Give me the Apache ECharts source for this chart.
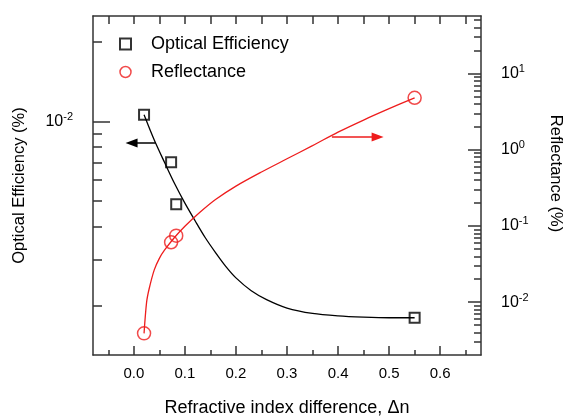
<!DOCTYPE html>
<html>
<head>
<meta charset="utf-8">
<script src="https://cdn.jsdelivr.net/npm/echarts@6/dist/echarts.min.js"></script>
<style>
  html, body { margin: 0; padding: 0; background: #fff; }
  #chart { width: 565px; height: 416px; }
</style>
</head>
<body>
<div id="chart"></div>
<script>
// measured points
const effX = [0.02, 0.073, 0.083, 0.55];
const effY = [0.0106, 0.0070, 0.00485, 0.0018];
const refX = [0.02, 0.073, 0.083, 0.55];
const refY = [0.0039, 0.061, 0.0745, 4.8];

// fitted curves
const effFitX = [0.02, 0.04, 0.06, 0.08, 0.10, 0.12, 0.14, 0.16, 0.18, 0.20, 0.23, 0.26, 0.30, 0.35, 0.40, 0.45, 0.50, 0.55];
const effFitY = [0.0106, 0.0085, 0.0070, 0.0058, 0.0049, 0.0042, 0.00362, 0.00318, 0.00282, 0.00255, 0.00228, 0.00211, 0.00196, 0.00187, 0.00183, 0.00181, 0.0018, 0.0018];
const refFitX = [0.02, 0.025, 0.03, 0.04, 0.05, 0.06, 0.08, 0.10, 0.13, 0.16, 0.20, 0.25, 0.30, 0.35, 0.40, 0.45, 0.50, 0.55];
const refFitY = [0.0039, 0.0100, 0.0150, 0.0265, 0.0375, 0.048, 0.071, 0.099, 0.152, 0.222, 0.333, 0.51, 0.76, 1.13, 1.70, 2.45, 3.45, 4.8];

// arrows pointing at each axis
const effArrow = [[0.0426, 0.00829], [-0.0045, 0.00829]];
const refArrow = [[0.388, 1.47], [0.4775, 1.47]];

// ticks
const xLabels = [0, 0.1, 0.2, 0.3, 0.4, 0.5, 0.6];
const xMinor = [-0.05, 0.05, 0.15, 0.25, 0.35, 0.45, 0.55, 0.65];
const xTop = [-0.05, 0, 0.05, 0.1, 0.15, 0.2, 0.25, 0.3, 0.35, 0.4, 0.45, 0.5, 0.55, 0.6, 0.65];
const leftMajor = [0.01];
const leftMinor = [0.02, 0.009, 0.008, 0.007, 0.006, 0.005, 0.004, 0.003, 0.002];
const rightMajor = [0.01, 0.1, 1, 10];

const leftMin = Math.pow(10, -2.886), leftMax = Math.pow(10, -1.6);
const rightMin = Math.pow(10, -2.693), rightMax = Math.pow(10, 1.754);

const rightMinor = [];
[0.001, 0.01, 0.1, 1, 10].forEach(d => {
  for (let k = 2; k <= 9; k++) {
    const v = k * d;
    if (v > rightMin && v < rightMax) rightMinor.push(v);
  }
});

const FONT = "'Liberation Sans', Arial, sans-serif";
const AXIS = "#333";
const RED = "#ee1d1d";

const pairs = (xs, ys) => xs.map((x, i) => [x, ys[i]]);

const powLabel = {
  formatter: v => "{b|10}{sup|" + Math.round(Math.log10(v)) + "}",
  rich: {
    b: { fontSize: 16, lineHeight: 20, fontFamily: FONT, color: "#000" },
    sup: { fontSize: 11, lineHeight: 10, verticalAlign: "top", fontFamily: FONT, color: "#000" },
  },
};

const frame = { show: true, onZero: false, lineStyle: { color: AXIS, width: 1.5 } };
const noLine = { show: false, onZero: false };

const tickOnly = (vals, len) => ({
  show: true, inside: true, length: len, customValues: vals,
  lineStyle: { color: AXIS, width: 1.5 },
});

const chart = echarts.init(document.getElementById("chart"));
chart.setOption({
  animation: false,
  grid: { left: 93, right: 84, top: 16, bottom: 61, containLabel: false, outerBoundsMode: "none" },
  legend: {
    orient: "vertical",
    left: 119,
    top: 35,
    padding: 0,
    itemGap: 10,
    itemWidth: 11,
    itemHeight: 11,
    textStyle: { fontSize: 18, fontFamily: FONT, color: "#000", padding: [0, 0, 0, 15] },
    data: [
      { name: "Optical Efficiency", icon: "rect", itemStyle: { color: "rgba(0,0,0,0)", borderColor: "#000", borderWidth: 2 } },
      { name: "Reflectance", icon: "circle", itemStyle: { color: "rgba(0,0,0,0)", borderColor: RED, borderWidth: 1.5 } },
    ],
  },
  xAxis: [
    {
      type: "value", position: "bottom", min: -0.08, max: 0.68,
      name: "Refractive index difference, \u0394n",
      nameLocation: "middle", nameGap: 44,
      nameTextStyle: { fontSize: 18, fontFamily: FONT, color: "#000" },
      axisLine: frame,
      axisTick: tickOnly(xLabels, 9),
      axisLabel: { customValues: xLabels, formatter: v => v.toFixed(1), fontSize: 15, fontFamily: FONT, color: "#000", margin: 11 },
      splitLine: { show: false },
    },
    {
      type: "value", position: "bottom", min: -0.08, max: 0.68,
      axisLine: noLine, axisLabel: { show: false }, splitLine: { show: false },
      axisTick: tickOnly(xMinor, 5),
    },
    {
      type: "value", position: "top", min: -0.08, max: 0.68,
      axisLine: frame,
      axisLabel: { show: false }, splitLine: { show: false },
      axisTick: tickOnly(xTop, 8),
    },
  ],
  yAxis: [
    {
      type: "log", position: "left", min: leftMin, max: leftMax,
      name: "Optical Efficiency (%)",
      nameLocation: "middle", nameGap: 65,
      nameTextStyle: { fontSize: 16.5, fontFamily: FONT, color: "#000" },
      axisLine: frame,
      axisTick: tickOnly(leftMajor, 17),
      axisLabel: Object.assign({ customValues: leftMajor, margin: 20 }, powLabel),
      splitLine: { show: false },
    },
    {
      type: "log", position: "left", min: leftMin, max: leftMax,
      axisLine: noLine, axisLabel: { show: false }, splitLine: { show: false },
      axisTick: tickOnly(leftMinor, 9),
    },
    {
      type: "log", position: "right", min: rightMin, max: rightMax,
      name: "Reflectance (%)",
      nameLocation: "middle", nameGap: 66, nameRotate: -90,
      nameTextStyle: { fontSize: 16.5, fontFamily: FONT, color: "#000", padding: [0, 24, 0, 0] },
      axisLine: frame,
      axisTick: tickOnly(rightMajor, 13),
      axisLabel: Object.assign({ customValues: rightMajor, margin: 20 }, powLabel),
      splitLine: { show: false },
    },
    {
      type: "log", position: "right", min: rightMin, max: rightMax,
      axisLine: noLine, axisLabel: { show: false }, splitLine: { show: false },
      axisTick: tickOnly(rightMinor, 7),
    },
  ],
  series: [
    {
      name: "effFit", type: "line", xAxisIndex: 0, yAxisIndex: 0,
      data: pairs(effFitX, effFitY), showSymbol: false, smooth: 0.3,
      lineStyle: { color: "#000", width: 1.3 }, silent: true, z: 2,
      markLine: {
        silent: true, symbol: ["none", "triangle"], symbolSize: [9, 12],
        label: { show: false },
        lineStyle: { color: "#000", width: 1.5, type: "solid" },
        data: [[{ coord: effArrow[0] }, { coord: effArrow[1] }]],
      },
    },
    {
      name: "refFit", type: "line", xAxisIndex: 0, yAxisIndex: 2,
      data: pairs(refFitX, refFitY), showSymbol: false, smooth: 0.3,
      lineStyle: { color: RED, width: 1.3 }, silent: true, z: 2,
      markLine: {
        silent: true, symbol: ["none", "triangle"], symbolSize: [9, 12],
        label: { show: false },
        lineStyle: { color: RED, width: 1.5, type: "solid" },
        data: [[{ coord: refArrow[0] }, { coord: refArrow[1] }]],
      },
    },
    {
      name: "Optical Efficiency", type: "scatter", xAxisIndex: 0, yAxisIndex: 0,
      data: pairs(effX, effY), symbol: "rect", symbolSize: 10,
      itemStyle: { color: "rgba(0,0,0,0)", borderColor: "#000", borderWidth: 2 }, z: 3,
    },
    {
      name: "Reflectance", type: "scatter", xAxisIndex: 0, yAxisIndex: 2,
      data: pairs(refX, refY), symbol: "circle", symbolSize: 13,
      itemStyle: { color: "rgba(0,0,0,0)", borderColor: RED, borderWidth: 1.5 }, z: 3,
    },
  ],
});
</script>
</body>
</html>
